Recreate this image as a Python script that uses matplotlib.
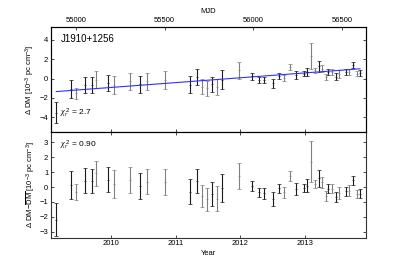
#!/usr/bin/env python
# -*- coding: utf-8 -*-

import matplotlib
matplotlib.use('Agg')

import numpy as np
from matplotlib import pyplot as plt

# epochs (MJD), DM offsets, residuals and errors (1e-3 pc cm^-3)
mjd = [54890, 54975, 55003, 55050, 55093, 55114, 55180, 55214, 55305, 55363,
       55399, 55503, 55645, 55685, 55709, 55737, 55766, 55795, 55825, 55918,
       55994, 56030, 56062, 56113, 56146, 56173, 56208, 56241, 56284, 56304,
       56325, 56348, 56368, 56385, 56408, 56422, 56443, 56466, 56485, 56524,
       56539, 56563, 56583, 56601]
ddm = [-3.53, -1.09, -1.53, -0.69, -0.66, -0.11, -0.44, -0.70, -0.30, -0.60,
       -0.28, -0.16, -0.62, 0.15, -0.84, -1.01, -0.61, -0.88, -0.10, 0.83,
       0.24, -0.14, -0.16, -0.47, 0.29, 0.06, 1.20, 0.38, 0.50, 0.68,
       2.32, 0.86, 1.26, 1.02, 0.16, 0.65, 0.68, 0.18, 0.44, 0.63,
       0.68, 1.42, 0.49, 0.56]
resid = [-2.19, 0.13, -0.34, 0.43, 0.40, 0.92, 0.50, 0.20, 0.47, 0.09,
         0.36, 0.34, -0.31, 0.40, -0.62, -0.83, -0.47, -0.78, -0.04, 0.76,
         0.07, -0.36, -0.42, -0.80, -0.09, -0.36, 0.74, -0.13, -0.07, 0.09,
         1.70, 0.20, 0.58, 0.31, -0.58, -0.11, -0.11, -0.64, -0.40, -0.27,
         -0.24, 0.47, -0.49, -0.44]
err = [1.09, 0.94, 0.55, 0.83, 0.79, 0.85, 0.83, 0.92, 0.88, 0.88,
       0.85, 0.90, 0.84, 0.79, 0.75, 0.80, 0.80, 0.85, 0.95, 0.88,
       0.35, 0.30, 0.35, 0.46, 0.32, 0.35, 0.34, 0.41, 0.27, 0.45,
       1.38, 0.27, 0.55, 0.35, 0.35, 0.31, 0.32, 0.34, 0.40, 0.30,
       0.35, 0.30, 0.27, 0.32]
# 0 = black, 1 = grey
backend = [0, 0, 1, 0, 0, 1, 0, 1, 1, 0,
           1, 1, 0, 0, 1, 1, 0, 1, 0, 1,
           0, 0, 0, 0, 0, 1, 1, 0, 0, 0,
           1, 1, 0, 1, 1, 0, 1, 0, 1, 0,
           1, 0, 1, 0]

fit_mjd = [54890, 56601]
fit_dm = [-1.34, 1.0]

years = [2010, 2011, 2012, 2013]
year_mjd = [55197.5, 55562.5, 55927.5, 56293.5]
mjd_ticks = [55000, 55500, 56000, 56500]

colors = ['#1a1a1a', '#808080']

plt.rcParams['font.family'] = ['Liberation Sans', 'DejaVu Sans']
plt.rcParams['mathtext.fontset'] = 'custom'
plt.rcParams['mathtext.rm'] = 'Liberation Sans'
plt.rcParams['mathtext.it'] = 'Liberation Serif:italic'

fig = plt.figure(figsize=(4.07, 2.65), dpi=100)
ax1 = fig.add_axes([51/407, 1-132/265, 315/407, 105/265])
ax2 = fig.add_axes([51/407, 1-237.7/265, 315/407, 105.7/265])

mjd = np.array(mjd)
backend = np.array(backend)

for ax, yv in ((ax1, np.array(ddm)), (ax2, np.array(resid))):
    for b in (0, 1):
        m = backend == b
        ax.errorbar(mjd[m], yv[m], yerr=np.array(err)[m], fmt='+', ms=2,
                    mew=0.5, color=colors[b], ecolor=colors[b],
                    elinewidth=0.8, capsize=1.5, capthick=0.6)
    ax.set_xlim(54860, 56635)
    ax.set_xticks(year_mjd)
    ax.tick_params(axis='both', direction='in', length=2.5, width=0.5,
                   labelsize=5.5, top=True, right=True, pad=2)
    for s in ax.spines.values():
        s.set_linewidth(0.8)
        s.set_color('#333333')

ax1.plot(fit_mjd, fit_dm, color='#3030ff', lw=0.8)
ax1.set_ylim(-5.5, 5.3)
ax1.set_yticks([-4, -2, 0, 2, 4])
ax1.set_xticklabels([])
ax1.tick_params(top=False)
ax1.set_ylabel(r'$\Delta$ DM [10$^{-3}$ pc cm$^{-3}$]', fontsize=5.5, labelpad=2)
ax1.text(0.032, 0.883, 'J1910+1256', transform=ax1.transAxes,
         fontsize=7, va='center')
ax1.text(0.03, 0.18, r'$\chi_r^{\,2}$ = 2.7', transform=ax1.transAxes,
         fontsize=6, va='center')

top = ax1.twiny()
top.set_xlim(ax1.get_xlim())
top.set_xticks(mjd_ticks)
top.tick_params(direction='in', length=2.5, width=0.5, labelsize=5.5, pad=2)
top.set_xlabel('MJD', fontsize=5.5, labelpad=3)

ax2.set_ylim(-3.4, 3.7)
ax2.set_yticks([-3, -2, -1, 0, 1, 2, 3])
ax2.set_xticklabels([str(y) for y in years])
ax2.set_xlabel('Year', fontsize=5.5, labelpad=2)
ax2.set_ylabel(r'$\Delta$ DM$-\overline{\mathrm{DM}}$ [10$^{-3}$ pc cm$^{-3}$]',
               fontsize=5.5, labelpad=2)
ax2.text(0.03, 0.877, r'$\chi_r^{\,2}$ = 0.90', transform=ax2.transAxes,
         fontsize=6, va='center')

fig.align_ylabels([ax1, ax2])
plt.savefig('out.png', dpi=100)
